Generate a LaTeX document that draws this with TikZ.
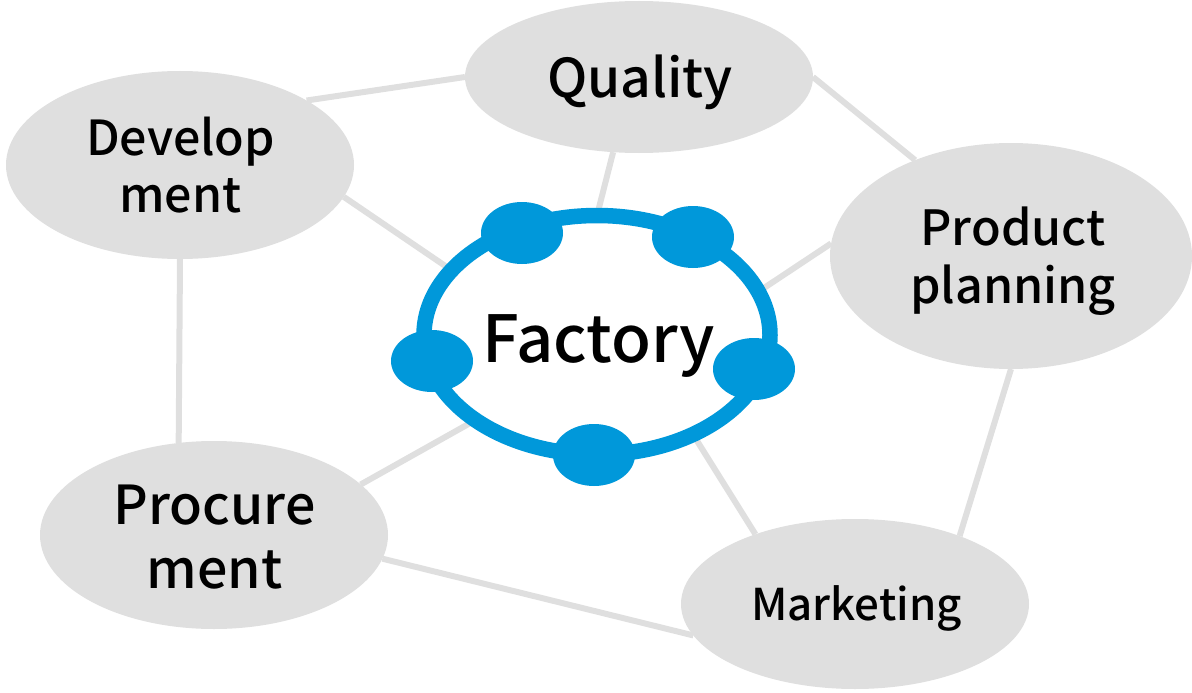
\documentclass[tikz,border=0pt]{standalone}
\usepackage{fontspec}
\setmainfont{Noto Sans CJK JP Medium}
\usetikzlibrary{shapes.geometric}
\pgfdeclarelayer{bg}
\pgfsetlayers{bg,main}
\definecolor{bubble}{HTML}{DFDFDF}
\definecolor{ringblue}{HTML}{0098DA}
\tikzset{
  x=1pt,y=-1pt,
  dept/.style={ellipse,fill=bubble,inner sep=0pt,outer sep=0pt,align=center,text=black},
  link/.style={draw=bubble,line width=6pt},
  ring/.style={ellipse,draw=ringblue,line width=15.5pt,fill=white,inner sep=0pt,outer sep=0pt},
  port/.style={ellipse,fill=ringblue,inner sep=0pt,outer sep=0pt,minimum width=82pt,minimum height=62pt}
}
\begin{document}
\begin{tikzpicture}
\useasboundingbox (0,0) rectangle (1192,693);
\node[ring,minimum width=346pt,minimum height=239pt] (factory) at (597,335) {};
\node[port] (p1) at (522,233) {};
\node[port] (p2) at (693,237) {};
\node[port] (p3) at (754,369) {};
\node[port] (p4) at (594,455) {};
\node[port] (p5) at (432,361) {};
\node[font=\fontsize{65}{70}\selectfont] (ftext) at (598.5,346) {Factory};
\node[dept,minimum width=348pt,minimum height=152pt] (quality) at (639,77) {};
\node[font=\fontsize{53.5}{58}\selectfont,align=center] (qtext) at (640,82) {Quality};
\node[dept,minimum width=348pt,minimum height=188pt] (dev) at (180,165) {};
\node[font=\fontsize{48.3}{57}\selectfont,align=center] (dtext) at (180.5,165) {Develop\\ment};
\node[dept,minimum width=362pt,minimum height=226pt] (prod) at (1011,256) {};
\node[font=\fontsize{48.5}{58}\selectfont,align=center] (ptext) at (1013,261) {Product\\planning};
\node[dept,minimum width=348pt,minimum height=188pt] (proc) at (214,535) {};
\node[font=\fontsize{53.7}{64}\selectfont,align=center] (ctext) at (214.5,537) {Procure\\ment};
\node[dept,minimum width=348pt,minimum height=170pt] (mkt) at (855,604) {};
\node[font=\fontsize{43.8}{50}\selectfont,align=center] (mtext) at (856.5,608) {Marketing};
\begin{pgfonlayer}{bg}
\draw[link] (dev.27) -- (quality.180);
\draw[link] (quality.0) -- (prod.135.5);
\draw[link] (quality.251) -- (factory.90);
\draw[link] (dev.-11.5) -- (factory.156.8);
\draw[link] (prod.176.5) -- (factory.15.9);
\draw[link] (proc.19) -- (factory.215);
\draw[link] (factory.-46.5) -- (mkt.145);
\draw[link] (prod.270) -- (mkt.33.8);
\draw[link] (dev.270.6) -- (proc.111.3);
\draw[link] (proc.-8.4) -- (mkt.191.9);
\end{pgfonlayer}
\end{tikzpicture}
\end{document}
